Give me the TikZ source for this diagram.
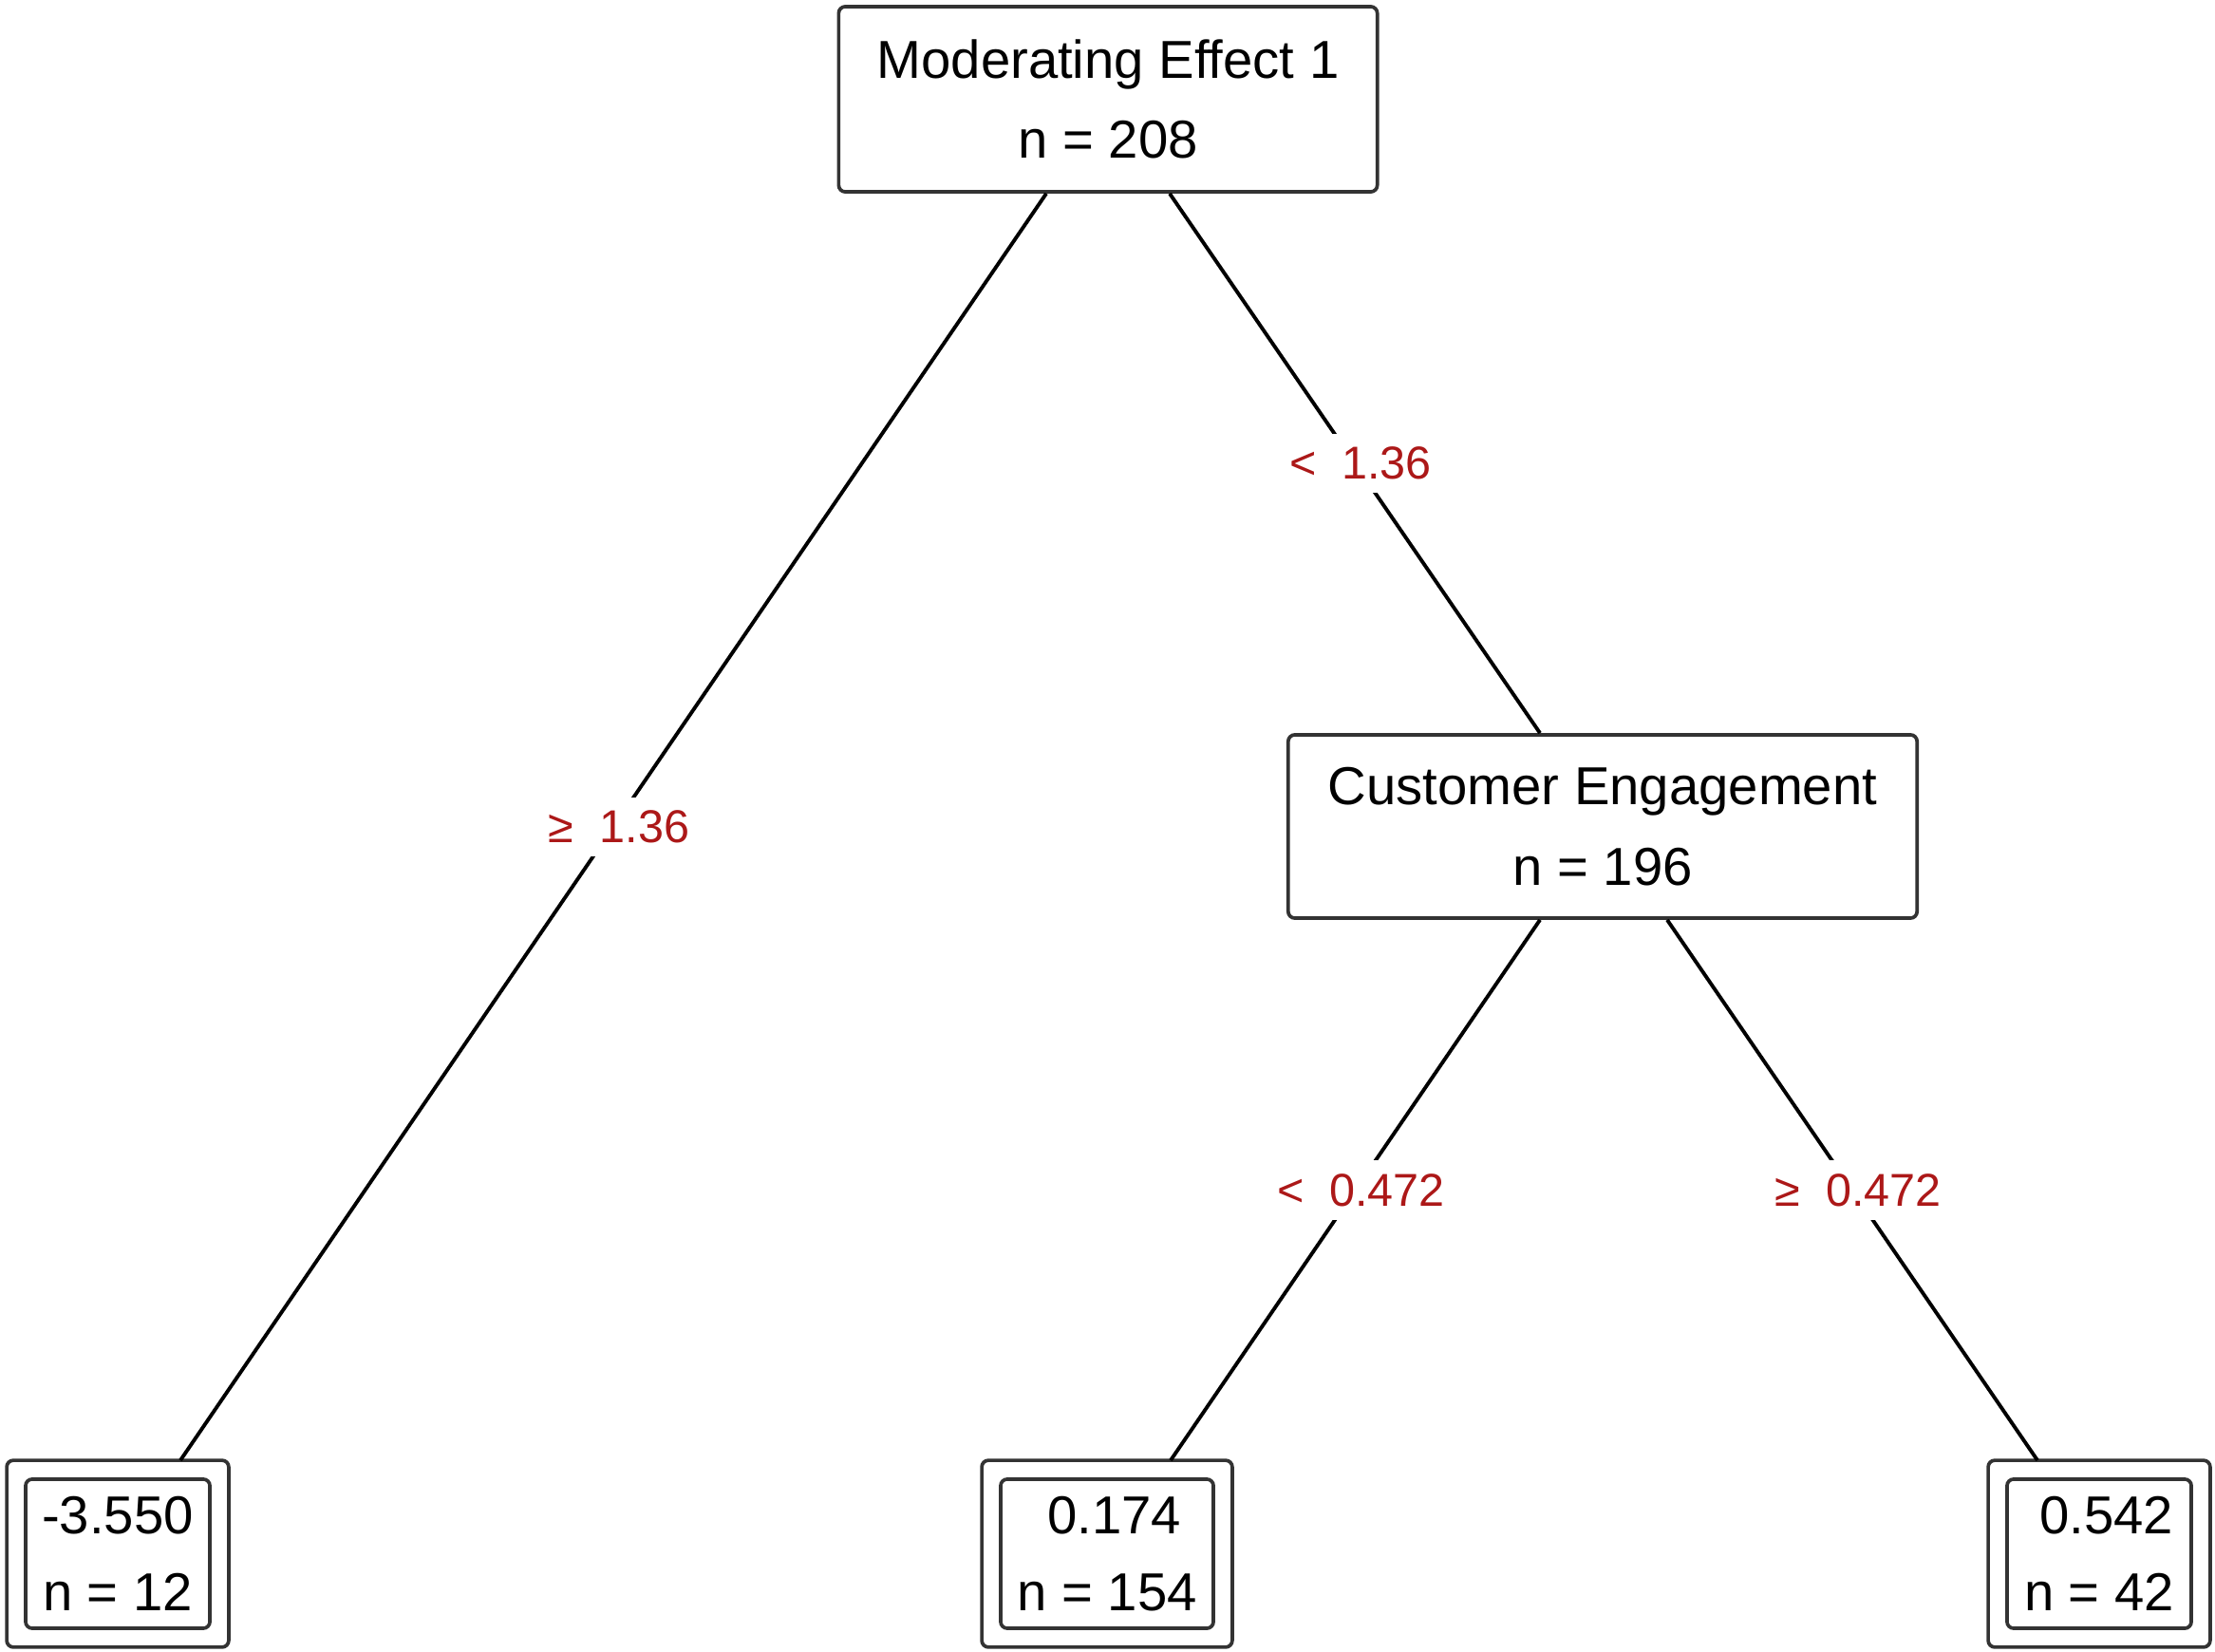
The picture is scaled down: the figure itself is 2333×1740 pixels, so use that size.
\documentclass[tikz,border=0pt]{standalone}
\usepackage{fontspec}
\setmainfont{Liberation Sans}
\usetikzlibrary{calc}
\definecolor{labred}{RGB}{172,24,24}
\tikzset{
  splitbox/.style={draw=black!80, line width=1.05pt, rounded corners=0.07cm, fill=white,
    align=center, inner sep=0pt, font=\fontsize{16}{24}\selectfont},
  leafbox/.style={draw=black!80, line width=1.05pt, rounded corners=0.07cm, fill=white,
    align=center, inner sep=0pt, minimum height=1.57cm, font=\fontsize{16}{23}\selectfont},
  leafouter/.style={draw=black!80, line width=1.05pt, rounded corners=0.07cm},
  edgeline/.style={draw=black, line width=1.1pt},
  lab/.style={fill=white, text=labred, inner xsep=0.05cm, inner ysep=0.14cm, pos=0.5, xshift=0.06cm,
    font=\fontsize{13.8}{16}\selectfont}
}
\begin{document}
\begin{tikzpicture}[x=0.01cm,y=-0.01cm]
\useasboundingbox (0,0) rectangle (2333,1740);
% split nodes
\node[splitbox, minimum width=5.67cm, minimum height=1.95cm] (root) at (1167,104.5) {Moderating Effect 1\\n = 208};
\node[splitbox, minimum width=6.62cm, minimum height=1.93cm] (ce) at (1688,870.5) {Customer Engagement\\n = 196};
% leaves (inner boxes)
\node[leafbox, minimum width=1.94cm] (l1) at (124,1636.5) {-3.550\\n = 12};
\node[leafbox, minimum width=2.24cm] (l2) at (1166,1636.5) {\hspace*{0.278em}0.174\\n = 154};
\node[leafbox, minimum width=1.94cm] (l3) at (2211,1636.5) {\hspace*{0.278em}0.542\\n = 42};
% leaf outer boxes
\draw[leafouter] ($(l1.south west)+(-18,18)$) rectangle ($(l1.north east)+(18,-18)$);
\draw[leafouter] ($(l2.south west)+(-18,18)$) rectangle ($(l2.north east)+(18,-18)$);
\draw[leafouter] ($(l3.south west)+(-18,18)$) rectangle ($(l3.north east)+(18,-18)$);
% edges
\draw[edgeline] ($(root.south)+(-65,0)$) -- node[lab] {≥~~1.36} ($(l1.north)+(66,-18)$);
\draw[edgeline] ($(root.south)+(65,0)$) -- node[lab] {<~~1.36} ($(ce.north)+(-66,0)$);
\draw[edgeline] ($(ce.south)+(-66,0)$) -- node[lab] {<~~0.472} ($(l2.north)+(67,-18)$);
\draw[edgeline] ($(ce.south)+(68,0)$) -- node[lab] {≥~~0.472} ($(l3.north)+(-65,-18)$);
\end{tikzpicture}
\end{document}
